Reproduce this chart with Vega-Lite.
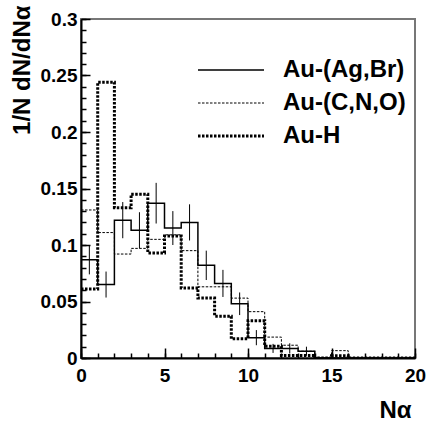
{
  "$schema": "https://vega.github.io/schema/vega-lite/v6.json",
  "width": 334,
  "height": 339,
  "autosize": {"type": "none"},
  "padding": {"left": 81, "top": 19, "right": 12, "bottom": 68},
  "background": "white",
  "config": {"view": {"stroke": "#777777", "strokeWidth": 2}, "font": "Liberation Sans"},
  "datasets": {
    "hist": [
      {"series": "Au-(Ag,Br)", "n": 0, "v": 0.087}, {"series": "Au-(Ag,Br)", "n": 1, "v": 0.065},
      {"series": "Au-(Ag,Br)", "n": 2, "v": 0.122}, {"series": "Au-(Ag,Br)", "n": 3, "v": 0.113},
      {"series": "Au-(Ag,Br)", "n": 4, "v": 0.137}, {"series": "Au-(Ag,Br)", "n": 5, "v": 0.115},
      {"series": "Au-(Ag,Br)", "n": 6, "v": 0.120}, {"series": "Au-(Ag,Br)", "n": 7, "v": 0.082},
      {"series": "Au-(Ag,Br)", "n": 8, "v": 0.066}, {"series": "Au-(Ag,Br)", "n": 9, "v": 0.048},
      {"series": "Au-(Ag,Br)", "n": 10, "v": 0.018}, {"series": "Au-(Ag,Br)", "n": 11, "v": 0.0085},
      {"series": "Au-(Ag,Br)", "n": 12, "v": 0.0085}, {"series": "Au-(Ag,Br)", "n": 13, "v": 0.006},
      {"series": "Au-(Ag,Br)", "n": 14, "v": 0}, {"series": "Au-(Ag,Br)", "n": 15, "v": 0},
      {"series": "Au-(Ag,Br)", "n": 16, "v": 0}, {"series": "Au-(Ag,Br)", "n": 17, "v": 0},
      {"series": "Au-(Ag,Br)", "n": 18, "v": 0}, {"series": "Au-(Ag,Br)", "n": 19, "v": 0},
      {"series": "Au-(Ag,Br)", "n": 20, "v": 0},
      {"series": "Au-(C,N,O)", "n": 0, "v": 0.131}, {"series": "Au-(C,N,O)", "n": 1, "v": 0.111},
      {"series": "Au-(C,N,O)", "n": 2, "v": 0.092}, {"series": "Au-(C,N,O)", "n": 3, "v": 0.097},
      {"series": "Au-(C,N,O)", "n": 4, "v": 0.105}, {"series": "Au-(C,N,O)", "n": 5, "v": 0.109},
      {"series": "Au-(C,N,O)", "n": 6, "v": 0.095}, {"series": "Au-(C,N,O)", "n": 7, "v": 0.063},
      {"series": "Au-(C,N,O)", "n": 8, "v": 0.063}, {"series": "Au-(C,N,O)", "n": 9, "v": 0.053},
      {"series": "Au-(C,N,O)", "n": 10, "v": 0.041}, {"series": "Au-(C,N,O)", "n": 11, "v": 0.0185},
      {"series": "Au-(C,N,O)", "n": 12, "v": 0.0113}, {"series": "Au-(C,N,O)", "n": 13, "v": 0.006},
      {"series": "Au-(C,N,O)", "n": 14, "v": 0}, {"series": "Au-(C,N,O)", "n": 15, "v": 0.0065},
      {"series": "Au-(C,N,O)", "n": 16, "v": 0}, {"series": "Au-(C,N,O)", "n": 17, "v": 0},
      {"series": "Au-(C,N,O)", "n": 18, "v": 0}, {"series": "Au-(C,N,O)", "n": 19, "v": 0},
      {"series": "Au-(C,N,O)", "n": 20, "v": 0},
      {"series": "Au-H", "n": 0, "v": 0.061}, {"series": "Au-H", "n": 1, "v": 0.244},
      {"series": "Au-H", "n": 2, "v": 0.133}, {"series": "Au-H", "n": 3, "v": 0.145},
      {"series": "Au-H", "n": 4, "v": 0.093}, {"series": "Au-H", "n": 5, "v": 0.108},
      {"series": "Au-H", "n": 6, "v": 0.062}, {"series": "Au-H", "n": 7, "v": 0.053},
      {"series": "Au-H", "n": 8, "v": 0.037}, {"series": "Au-H", "n": 9, "v": 0.017},
      {"series": "Au-H", "n": 10, "v": 0.033}, {"series": "Au-H", "n": 11, "v": 0.0104},
      {"series": "Au-H", "n": 12, "v": 0.0023}, {"series": "Au-H", "n": 13, "v": 0.0023},
      {"series": "Au-H", "n": 14, "v": 0}, {"series": "Au-H", "n": 15, "v": 0.002},
      {"series": "Au-H", "n": 16, "v": 0}, {"series": "Au-H", "n": 17, "v": 0},
      {"series": "Au-H", "n": 18, "v": 0}, {"series": "Au-H", "n": 19, "v": 0},
      {"series": "Au-H", "n": 20, "v": 0}
    ],
    "err": [
      {"c": 0.5, "lo": 0.074, "hi": 0.100}, {"c": 1.5, "lo": 0.0535, "hi": 0.0765},
      {"c": 2.5, "lo": 0.106, "hi": 0.138}, {"c": 3.5, "lo": 0.097, "hi": 0.129},
      {"c": 4.5, "lo": 0.119, "hi": 0.155}, {"c": 5.5, "lo": 0.100, "hi": 0.130},
      {"c": 6.5, "lo": 0.104, "hi": 0.136}, {"c": 7.5, "lo": 0.069, "hi": 0.095},
      {"c": 8.5, "lo": 0.054, "hi": 0.078}, {"c": 9.5, "lo": 0.038, "hi": 0.058},
      {"c": 10.5, "lo": 0.0113, "hi": 0.0247}, {"c": 11.5, "lo": 0.0045, "hi": 0.0125},
      {"c": 12.5, "lo": 0.004, "hi": 0.013}, {"c": 13.5, "lo": 0.002, "hi": 0.010}
    ]
  },
  "resolve": {"axis": {"x": "independent", "y": "independent"}},
  "layer": [
    {
      "data": {"name": "hist"},
      "transform": [{"filter": "datum.series == 'Au-(Ag,Br)'"}],
      "mark": {"type": "line", "interpolate": "step-after", "color": "black", "strokeWidth": 1.5, "clip": true},
      "encoding": {
        "x": {
          "field": "n", "type": "quantitative",
          "scale": {"domain": [0, 20], "nice": false, "zero": false},
          "axis": {
            "orient": "top", "offset": -339, "zindex": 2,
            "values": [0,1,2,3,4,5,6,7,8,9,10,11,12,13,14,15,16,17,18,19,20],
            "labels": false, "tickSize": 5, "domain": false,
            "tickColor": "black", "tickWidth": 1.5, "grid": false, "title": null
          }
        },
        "y": {
          "field": "v", "type": "quantitative",
          "scale": {"domain": [0, 0.3], "nice": false},
          "axis": {
            "orient": "right", "offset": -334, "zindex": 2,
            "values": [0,0.01,0.02,0.03,0.04,0.05,0.06,0.07,0.08,0.09,0.1,0.11,0.12,0.13,0.14,0.15,0.16,0.17,0.18,0.19,0.2,0.21,0.22,0.23,0.24,0.25,0.26,0.27,0.28,0.29,0.3],
            "labels": false, "tickSize": 5, "domain": false,
            "tickColor": "black", "tickWidth": 1.5, "grid": false, "title": null
          }
        },
        "strokeDash": {
          "field": "series", "type": "nominal",
          "scale": {"domain": ["Au-(Ag,Br)", "Au-(C,N,O)", "Au-H"], "range": [[1, 0], [2.5, 1.5], [2.5, 1.5]]},
          "legend": {
            "orient": "none", "legendX": 138, "legendY": 39, "title": null,
            "symbolType": "M-3,0L3,0", "symbolSize": 484, "symbolStrokeColor": "black", "symbolStrokeWidth": 1,
            "labelFont": "Liberation Sans", "labelFontWeight": "bold", "labelFontSize": 24,
            "labelColor": "black", "labelOffset": 40, "rowPadding": 9, "padding": 0,
            "encode": {"symbols": {"update": {"strokeWidth": {"signal": "datum.value == 'Au-H' ? 3 : (datum.value == 'Au-(Ag,Br)' ? 1.5 : 1)"}}}}
          }
        }
      }
    },
    {
      "data": {"name": "hist"},
      "transform": [{"filter": "datum.series == 'Au-(C,N,O)'"}],
      "mark": {"type": "line", "interpolate": "step-after", "color": "black", "strokeWidth": 1, "clip": true},
      "encoding": {
        "x": {
          "field": "n", "type": "quantitative",
          "axis": {
            "orient": "top", "offset": -339, "zindex": 2,
            "values": [0, 5, 10, 15, 20],
            "labels": false, "tickSize": 10, "domain": false,
            "tickColor": "black", "tickWidth": 1.5, "grid": false, "title": null
          }
        },
        "y": {
          "field": "v", "type": "quantitative",
          "axis": {
            "orient": "right", "offset": -334, "zindex": 2,
            "values": [0, 0.05, 0.1, 0.15, 0.2, 0.25, 0.3],
            "labels": false, "tickSize": 9, "domain": false,
            "tickColor": "black", "tickWidth": 1.5, "grid": false, "title": null
          }
        },
        "strokeDash": {"field": "series", "type": "nominal"}
      }
    },
    {
      "data": {"name": "hist"},
      "transform": [{"filter": "datum.series == 'Au-H'"}],
      "mark": {"type": "line", "interpolate": "step-after", "color": "black", "strokeWidth": 3, "clip": true},
      "encoding": {
        "x": {"field": "n", "type": "quantitative", "axis": null},
        "y": {"field": "v", "type": "quantitative", "axis": null},
        "strokeDash": {"field": "series", "type": "nominal"}
      }
    },
    {
      "data": {"name": "err"},
      "mark": {"type": "rule", "color": "black", "strokeWidth": 1},
      "encoding": {
        "x": {
          "field": "c", "type": "quantitative",
          "axis": {
            "orient": "bottom", "zindex": 2,
            "values": [0, 5, 10, 15, 20],
            "ticks": false,
            "domainColor": "black", "domainWidth": 2,
            "labelFont": "Liberation Sans", "labelFontWeight": "bold", "labelFontSize": 19,
            "labelColor": "black", "labelPadding": 8, "labelFlush": false, "labelOverlap": false,
            "grid": false,
            "title": "Nα", "titleFont": "Liberation Sans", "titleFontSize": 24, "titleFontWeight": "bold",
            "titleColor": "black", "titleAnchor": "end", "titleAlign": "right", "titleX": 330, "titleY": 59,
            "titleBaseline": "alphabetic"
          }
        },
        "y": {
          "field": "lo", "type": "quantitative",
          "axis": {
            "orient": "left", "zindex": 2,
            "values": [0, 0.05, 0.1, 0.15, 0.2, 0.25, 0.3],
            "labelExpr": "datum.value == 0 ? '0' : format(datum.value, '.2~f')",
            "ticks": false,
            "domainColor": "black", "domainWidth": 2,
            "labelFont": "Liberation Sans", "labelFontWeight": "bold", "labelFontSize": 19,
            "labelColor": "black", "labelPadding": 4, "labelFlush": false, "labelOverlap": false,
            "grid": false,
            "title": "1/N dN/dNα", "titleFont": "Liberation Sans", "titleFontSize": 24, "titleFontWeight": "bold",
            "titleColor": "black", "titleAnchor": "end", "titleAlign": "right", "titleAngle": -90,
            "titleX": -52, "titleY": -14, "titleBaseline": "alphabetic"
          }
        },
        "y2": {"field": "hi"}
      }
    }
  ]
}
